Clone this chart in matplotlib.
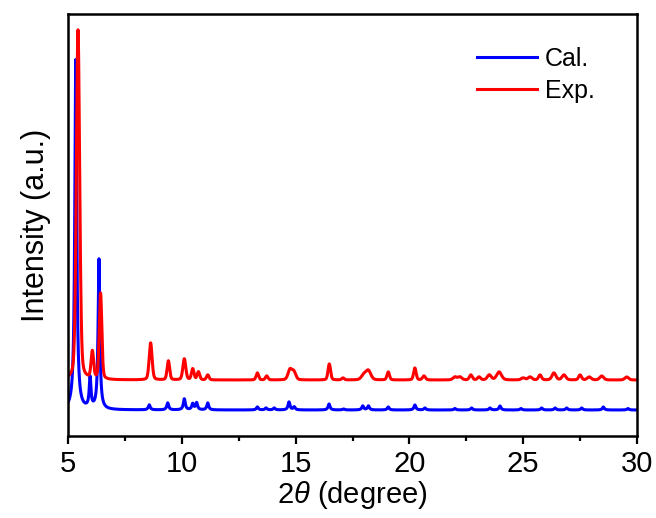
import numpy as np
import matplotlib
matplotlib.use("Agg")
import matplotlib.pyplot as plt

plt.rcParams['font.family'] = ['Liberation Sans', 'DejaVu Sans']
plt.rcParams['mathtext.fontset'] = 'custom'
plt.rcParams['mathtext.it'] = 'Liberation Sans:italic'
plt.rcParams['mathtext.rm'] = 'Liberation Sans'

# peak lists: position (2theta), height, FWHM
cal_pos = [5.34, 5.97, 6.36, 8.57, 9.38, 10.11, 10.48, 10.65, 11.14, 13.32, 13.70,
           14.06, 14.71, 14.94, 16.47, 17.10, 17.95, 18.20, 19.07, 20.24, 20.68,
           22.00, 22.73, 23.54, 23.98, 24.90, 25.81, 26.40, 26.91, 27.57, 28.52, 29.60]
cal_int = [350, 30, 150, 5, 7, 11, 6, 7, 7, 3, 2,
           2, 8, 3, 6, 1, 4, 4, 3, 5, 2,
           1.5, 2, 2, 4, 1.5, 2, 2, 2, 2, 3, 1.5]
cal_fwhm = [0.10, 0.09, 0.09] + [0.10] * 29

exp_pos = [5.44, 6.07, 6.43, 8.63, 9.41, 10.11, 10.48, 10.73, 11.14, 13.32, 13.73,
           14.75, 14.92, 16.48, 17.08, 18.00, 18.20, 19.07, 20.24, 20.64, 22.00,
           22.22, 22.70, 23.06, 23.51, 23.94, 25.00, 25.30, 25.74, 26.35, 26.79,
           27.50, 27.90, 28.45, 29.55]
exp_int = [350, 27, 86, 37, 19, 21, 11, 8, 5, 7, 4,
           10, 8, 16, 2, 5, 9, 8, 12, 4, 3,
           3, 5, 3, 5, 8, 2, 3, 5, 7, 5,
           5, 3, 4, 3]
exp_fwhm = [0.17, 0.13, 0.13, 0.15, 0.13, 0.15, 0.13, 0.13, 0.13, 0.13, 0.13,
            0.20, 0.20, 0.13, 0.13, 0.25, 0.25, 0.13, 0.13, 0.15, 0.20,
            0.20, 0.15, 0.15, 0.20, 0.25, 0.20, 0.20, 0.15, 0.20, 0.20,
            0.15, 0.20, 0.20, 0.20]

cal_base = 26
exp_base = 56


def pattern(x, pos, amp, fwhm, eta, base):
    y = np.full_like(x, base, dtype=float)
    for p, a, f in zip(pos, amp, fwhm):
        hw = f / 2
        lor = 1 / (1 + ((x - p) / hw) ** 2)
        gau = np.exp(-np.log(2) * ((x - p) / hw) ** 2)
        y += a * (eta * lor + (1 - eta) * gau)
    return y


x = np.arange(5, 30.001, 0.005)
y_cal = pattern(x, cal_pos, cal_int, cal_fwhm, 1.0, cal_base)
y_exp = pattern(x, exp_pos, exp_int, exp_fwhm, 0.3, exp_base)

fig = plt.figure(figsize=(6.56, 5.18), dpi=100)
ax = fig.add_axes([68 / 656, 82 / 518, 569 / 656, 422 / 518])

ax.plot(x, y_cal, color='#0000ff', lw=2.2, label='Cal.')
ax.plot(x, y_exp, color='#ff0000', lw=2.2, label='Exp.')

ax.set_xlim(5, 30)
ax.set_ylim(0, 422)
ax.set_xticks([5, 10, 15, 20, 25, 30])
ax.set_xticks(np.arange(7.5, 30, 5), minor=True)
ax.set_yticks([])
ax.tick_params(axis='x', which='major', direction='out', length=6, width=1.6,
               labelsize=21, pad=4)
ax.tick_params(axis='x', which='minor', direction='out', length=3.5, width=1.6)
for s in ax.spines.values():
    s.set_linewidth(1.8)

ax.set_xlabel(r'2$\it{\theta}$ (degree)', fontsize=21, labelpad=1)
ax.set_ylabel('Intensity (a.u.)', fontsize=22, labelpad=12)

ax.legend(loc='upper right', frameon=False, fontsize=18, handlelength=2.4,
          handletextpad=0.3, labelspacing=0.3, bbox_to_anchor=(0.965, 0.975))

fig.savefig('out.png', dpi=100)
